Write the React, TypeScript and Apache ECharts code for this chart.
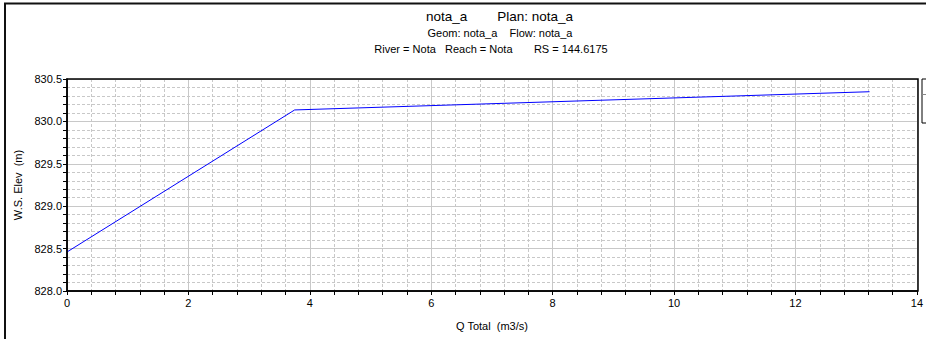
import React, { useEffect, useRef } from "react";
import * as echarts from "echarts";

const qTotal = [0, 3.75, 13.22];
const wsElev = [828.46, 830.135, 830.35];
const titleLines = [
  "nota_a        Plan: nota_a",
  "Geom: nota_a    Flow: nota_a",
  "River = Nota   Reach = Nota       RS = 144.6175",
];
const xName = "Q Total  (m3/s)";
const yName = "W.S. Elev  (m)";

const FONT = "'Liberation Sans', Arial, sans-serif";

export default function App() {
  const ref = useRef<HTMLDivElement>(null);
  useEffect(() => {
    if (!ref.current) return;
    const chart = echarts.init(ref.current, undefined, { renderer: "svg" });
    const data = qTotal.map((q, i) => [q, wsElev[i]]);
    const L = 67, R = 918, T = 79, B = 291;
    chart.setOption({
      animation: false,
      backgroundColor: "#fff",
      textStyle: { fontFamily: FONT },
      grid: {
        left: L,
        right: 926 - R,
        top: T,
        bottom: 339 - B,
        show: false,
      },
      xAxis: {
        type: "value",
        min: 0,
        max: 14,
        interval: 2,
        axisLine: { show: true, onZero: false, lineStyle: { color: "#000", width: 1.5 } },
        axisTick: { show: true, inside: false, length: 4, lineStyle: { color: "#000" } },
        minorTick: { show: true, splitNumber: 5, length: 4, lineStyle: { color: "#000" } },
        axisLabel: { color: "#000", fontSize: 11, fontFamily: FONT, margin: 6 },
        splitLine: { show: true, lineStyle: { color: "#c8c8c8", width: 1 } },
        minorSplitLine: { show: true, lineStyle: { color: "#c8c8c8", type: [3, 2], width: 1 } },
      },
      yAxis: {
        type: "value",
        min: 828,
        max: 830.5,
        interval: 0.5,
        axisLine: { show: true, onZero: false, lineStyle: { color: "#000", width: 1.5 } },
        axisTick: { show: true, inside: false, length: 4, lineStyle: { color: "#000" } },
        minorTick: { show: true, splitNumber: 5, length: 4, lineStyle: { color: "#000" } },
        axisLabel: {
          color: "#000",
          fontSize: 11,
          fontFamily: FONT,
          margin: 5,
          formatter: (v: number) => v.toFixed(1),
        },
        splitLine: { show: true, lineStyle: { color: "#c8c8c8", width: 1 } },
        minorSplitLine: { show: true, lineStyle: { color: "#c8c8c8", type: [3, 2], width: 1 } },
      },
      series: [
        {
          type: "line",
          data,
          showSymbol: false,
          symbol: "none",
          lineStyle: { color: "#0000ff", width: 1 },
          z: 5,
        },
      ],
      graphic: [
        {
          type: "rect",
          shape: { x: 5, y: 3.5, width: 940, height: 400 },
          style: { fill: "none", stroke: "#111", lineWidth: 2 },
          silent: true,
        },
        {
          type: "rect",
          shape: { x: L, y: T, width: R - L, height: B - T },
          style: { fill: "none", stroke: "#000", lineWidth: 1.5 },
          silent: true,
          z: 10,
        },
        {
          type: "rect",
          shape: { x: 922, y: 79, width: 20, height: 44 },
          style: { fill: "#fff", stroke: "#000", lineWidth: 1 },
          silent: true,
        },
        {
          type: "line",
          shape: { x1: 922, y1: 94.5, x2: 942, y2: 94.5 },
          style: { stroke: "#888", lineWidth: 1 },
          silent: true,
        },
        {
          type: "text",
          x: 499.5,
          y: 16,
          style: {
            text: titleLines[0],
            fill: "#000",
            font: `13.5px ${FONT}`,
            align: "center",
            verticalAlign: "middle",
          },
        },
        {
          type: "text",
          x: 500,
          y: 33,
          style: {
            text: titleLines[1],
            fill: "#000",
            font: `11px ${FONT}`,
            align: "center",
            verticalAlign: "middle",
          },
        },
        {
          type: "text",
          x: 491,
          y: 49,
          style: {
            text: titleLines[2],
            fill: "#000",
            font: `11px ${FONT}`,
            align: "center",
            verticalAlign: "middle",
          },
        },
        {
          type: "text",
          x: 492,
          y: 326,
          style: {
            text: xName,
            fill: "#000",
            font: `11px ${FONT}`,
            align: "center",
            verticalAlign: "middle",
          },
        },
        {
          type: "text",
          x: 18,
          y: 185,
          rotation: Math.PI / 2,
          style: {
            text: yName,
            fill: "#000",
            font: `11px ${FONT}`,
            align: "center",
            verticalAlign: "middle",
          },
        },
      ],
    });
    return () => chart.dispose();
  }, []);
  return (
    <div
      ref={ref}
      style={{ position: "fixed", left: 0, top: 0, width: 926, height: 339 }}
    />
  );
}
